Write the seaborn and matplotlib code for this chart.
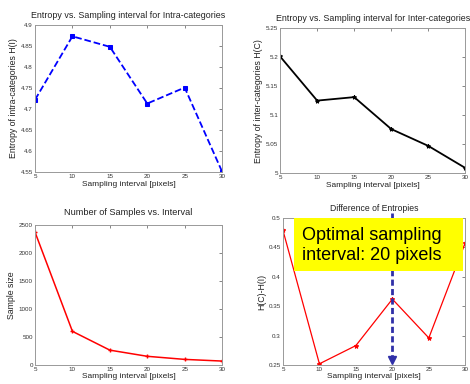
import matplotlib
matplotlib.use("Agg")
import matplotlib.pyplot as plt
import matplotlib.patches as mpatches
import seaborn as sns
import pandas as pd

intervals = [5, 10, 15, 20, 25, 30]
intra_entropy = [4.722, 4.873, 4.848, 4.713, 4.751, 4.551]
inter_entropy = [5.201, 5.125, 5.131, 5.076, 5.047, 5.009]
sample_size = [2370, 600, 265, 155, 100, 70]
entropy_diff = [0.479, 0.252, 0.283, 0.362, 0.296, 0.458]
optimal_interval = 20

intra_ticks = [4.55, 4.6, 4.65, 4.7, 4.75, 4.8, 4.85, 4.9]
inter_ticks = [5, 5.05, 5.1, 5.15, 5.2, 5.25]
sample_ticks = [0, 500, 1000, 1500, 2000, 2500]
diff_ticks = [0.25, 0.3, 0.35, 0.4, 0.45, 0.5]

sns.set_style("white")
plt.rcParams['font.family'] = ['Liberation Sans', 'DejaVu Sans']

fig = plt.figure(figsize=(4.70, 3.84), dpi=100)

df = pd.DataFrame({"x": intervals, "intra": intra_entropy, "inter": inter_entropy,
                   "n": sample_size, "d": entropy_diff})

def style(ax, yticks, title, ylabel, tfs=6.4, tpad=5):
    ax.set_xlim(5, 30)
    ax.set_xticks(intervals)
    ax.set_ylim(yticks[0], yticks[-1])
    ax.set_yticks(yticks)
    ax.set_yticklabels([f"{t:g}" for t in yticks])
    ax.tick_params(direction="in", length=2.5, labelsize=4.5, top=True, right=True,
                   colors="#555555", labelcolor="#333333", pad=1.5, width=0.5)
    for s in ax.spines.values():
        s.set_color("#999999")
        s.set_linewidth(0.7)
    ax.set_title(title, fontsize=tfs, pad=tpad, color="#222222")
    ax.set_xlabel("Sampling interval [pixels]", fontsize=6.0, labelpad=1, color="#222222")
    ax.set_ylabel(ylabel, fontsize=6.3, labelpad=2, color="#222222")

ax1 = fig.add_axes([0.0745, 0.552, 0.398, 0.383])
sns.lineplot(data=df, x="x", y="intra", ax=ax1, color="#0000ff", linestyle="--",
             marker="s", markersize=3.3, linewidth=1.3, markeredgecolor="#0000ff")
style(ax1, intra_ticks, "Entropy vs. Sampling interval for Intra-categories",
      "Entropy of intra-categories H(I)")

ax2 = fig.add_axes([0.596, 0.549, 0.394, 0.378])
sns.lineplot(data=df, x="x", y="inter", ax=ax2, color="black",
             marker="*", markersize=3, linewidth=1.3, markeredgecolor="black")
style(ax2, inter_ticks, "Entropy vs. Sampling interval for Inter-categories",
      "Entropy of inter-categories H(C)")

ax3 = fig.add_axes([0.0745, 0.0495, 0.398, 0.365])
sns.lineplot(data=df, x="x", y="n", ax=ax3, color="#ff0000",
             marker="+", markersize=3.5, linewidth=1.1, markeredgecolor="#ff0000",
             markeredgewidth=1)
style(ax3, sample_ticks, "Number of Samples vs. Interval", "Sample size", tfs=6.6, tpad=7)

ax4 = fig.add_axes([0.602, 0.0495, 0.388, 0.383])
sns.lineplot(data=df, x="x", y="d", ax=ax4, color="#ff0000",
             marker="*", markersize=3.2, linewidth=0.9, markeredgecolor="#ff0000")
style(ax4, diff_ticks, "Difference of Entropies", "H(C)-H(I)", tfs=6.2, tpad=5)

ax4.plot([optimal_interval, optimal_interval], [diff_ticks[-1] + 0.008, diff_ticks[0] + 0.012],
         color="#3030a8", linestyle=(0, (2.2, 1.2)), linewidth=2.0, zorder=5, clip_on=False)
ax4.plot([optimal_interval], [diff_ticks[0] + 0.009], marker="v", markersize=6,
         color="#3030a8", zorder=6, clip_on=False)

fig.patches.append(mpatches.Rectangle((0.6255, 0.294), 0.3595, 0.137,
                                      transform=fig.transFigure, facecolor="#ffff00",
                                      edgecolor="none", zorder=8))
fig.text(0.6426, 0.360, "Optimal sampling\ninterval: 20 pixels", fontsize=13,
         va="center", ha="left", color="black", linespacing=1.2, zorder=10)

fig.savefig("out.png", dpi=100)
